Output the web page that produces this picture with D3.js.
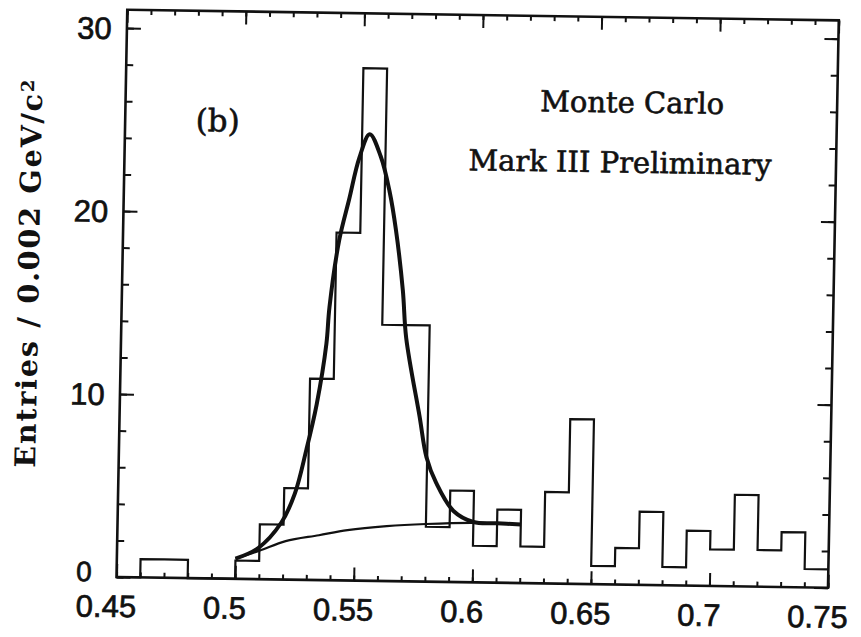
<!DOCTYPE html>
<html>
<head>
<meta charset="utf-8">
<script src="https://cdn.jsdelivr.net/npm/d3@7"></script>
<style>
  body { margin: 0; background: #fff; }
  svg { display: block; }
</style>
</head>
<body>
<div id="chart"></div>
<script>
// histogram: lower edge of each 0.01 bin and its entries
const binStart = [0.45, 0.46, 0.47, 0.48, 0.49, 0.50, 0.51, 0.52, 0.53, 0.54,
                  0.55, 0.56, 0.57, 0.58, 0.59, 0.60, 0.61, 0.62, 0.63, 0.64,
                  0.65, 0.66, 0.67, 0.68, 0.69, 0.70, 0.71, 0.72, 0.73, 0.74];
const counts   = [0, 1, 1, 0, 0, 1, 3, 5, 11, 19,
                  28, 14, 14, 3, 5, 2, 4, 2, 5, 9,
                  1, 2, 4, 1, 3, 2, 5, 2, 3, 1];
const binWidth = 0.01;

// fit curve (signal + background)
const fitX = [0.500, 0.5095, 0.519, 0.5245, 0.529, 0.533, 0.5366, 0.5376, 0.5412, 0.545,
              0.549, 0.5532, 0.558, 0.562, 0.565, 0.5684, 0.5702, 0.5765, 0.5797, 0.584,
              0.5914, 0.600, 0.610, 0.620];
const fitY = [1.1, 1.7, 3.1, 4.7, 7.1, 9.6, 12.9, 14.9, 18.6, 20.8,
              23.1, 24.4, 23.2, 21.3, 19.2, 15.9, 13.3, 9.0, 6.8, 5.4,
              3.9, 3.3, 3.25, 3.2];

// background part of the fit
const bgX = [0.500, 0.510, 0.521, 0.535, 0.547, 0.5635, 0.580, 0.600, 0.620];
const bgY = [1.1, 1.55, 2.1, 2.45, 2.75, 3.0, 3.15, 3.25, 3.2];

const xTicks = [0.45, 0.5, 0.55, 0.6, 0.65, 0.7, 0.75];
const xTickLabels = ["0.45", "0.5", "0.55", "0.6", "0.65", "0.7", "0.75"];
const xMinor = d3.range(45, 76).map(d => d / 100);
const yTicks = [0, 10, 20, 30];
const yTickLabels = ["0", "10", "20", "30"];
const yMinor = d3.range(0, 32, 2);

const width = 861, height = 637;
const x = d3.scaleLinear().domain([0.45, 0.75]).range([116.5, 828]);
const y = d3.scaleLinear().domain([0, 31]).range([577, 9.7]);

const svg = d3.select("#chart").append("svg")
  .attr("width", width)
  .attr("height", height);

// the scanned figure sits slightly askew
const g = svg.append("g")
  .attr("transform", "matrix(1,0.015,-0.019,1,10.963,-1.725)");

const ink = "#111";

// frame
g.append("rect")
  .attr("x", x(0.45)).attr("y", y(31))
  .attr("width", x(0.75) - x(0.45))
  .attr("height", y(0) - y(31))
  .attr("fill", "none")
  .attr("stroke", ink)
  .attr("stroke-width", 2.6);

// tick marks, pointing inward on all four sides
function ticks(axis, values, size, transform) {
  const a = g.append("g")
    .attr("transform", transform)
    .call(axis.tickValues(values).tickSize(size).tickSizeOuter(0).tickFormat(""));
  a.select(".domain").remove();
  a.selectAll("line").attr("stroke", ink).attr("stroke-width", 2);
}
ticks(d3.axisBottom(x), xMinor, -5, `translate(0,${y(0)})`);
ticks(d3.axisBottom(x), xTicks, -13, `translate(0,${y(0)})`);
ticks(d3.axisTop(x), xMinor, -5, `translate(0,${y(31)})`);
ticks(d3.axisTop(x), xTicks, -13, `translate(0,${y(31)})`);
ticks(d3.axisLeft(y), yMinor, -7, `translate(${x(0.45)},0)`);
ticks(d3.axisLeft(y), yTicks, -14, `translate(${x(0.45)},0)`);
ticks(d3.axisRight(y), yMinor, -7, `translate(${x(0.75)},0)`);
ticks(d3.axisRight(y), yTicks, -14, `translate(${x(0.75)},0)`);

// tick labels
const sans = "Liberation Sans, Arial, sans-serif";
g.selectAll(".xlab")
  .data(xTicks)
  .join("text")
  .attr("class", "xlab")
  .attr("x", d => x(d) - 10)
  .attr("y", 617)
  .attr("text-anchor", "middle")
  .attr("font-family", sans)
  .attr("font-size", 31)
  .attr("fill", ink)
  .attr("stroke", ink)
  .attr("stroke-width", 0.7)
  .text((d, i) => xTickLabels[i]);

// the "0" sits a little higher so it clears the 0.45 below it
g.selectAll(".ylab")
  .data(yTicks)
  .join("text")
  .attr("class", "ylab")
  .attr("x", 84)
  .attr("y", d => y(d))
  .attr("dy", d => d === 0 ? "0.16em" : "0.36em")
  .attr("text-anchor", "middle")
  .attr("font-family", sans)
  .attr("font-size", d => d === 0 ? 28 : 31)
  .attr("fill", ink)
  .attr("stroke", ink)
  .attr("stroke-width", 0.7)
  .text((d, i) => yTickLabels[i]);

// histogram outline
const steps = binStart.map((b, i) => [b, counts[i]]);
steps.push([binStart[binStart.length - 1] + binWidth, counts[counts.length - 1]]);
g.append("path")
  .datum(steps)
  .attr("d", d3.line().x(d => x(d[0])).y(d => y(d[1])).curve(d3.curveStepAfter))
  .attr("fill", "none")
  .attr("stroke", ink)
  .attr("stroke-width", 2.2);

// background curve (thin) and full fit (thick)
const curve = d3.line().x(d => x(d[0])).y(d => y(d[1])).curve(d3.curveCatmullRom.alpha(0.5));
g.append("path")
  .datum(bgX.map((v, i) => [v, bgY[i]]))
  .attr("d", curve)
  .attr("fill", "none")
  .attr("stroke", ink)
  .attr("stroke-width", 2.2);
g.append("path")
  .datum(fitX.map((v, i) => [v, fitY[i]]))
  .attr("d", curve)
  .attr("fill", "none")
  .attr("stroke", ink)
  .attr("stroke-width", 4)
  .attr("stroke-linejoin", "round");

// annotations
const serif = "DejaVu Serif, serif";
function note(tx, ty, size, label) {
  g.append("text")
    .attr("x", tx).attr("y", ty)
    .attr("text-anchor", "middle")
    .attr("font-family", serif).attr("font-size", size)
    .attr("fill", ink)
    .attr("stroke", ink)
    .attr("stroke-width", 0.6)
    .text(label);
}
note(209, 130, 31, "(b)");
note(623, 105, 29, "Monte Carlo");
note(612, 165, 29, "Mark III Preliminary");

// y axis title
const ytitle = g.append("text")
  .attr("transform", "translate(33,275) rotate(-90)")
  .attr("text-anchor", "middle")
  .attr("font-family", serif).attr("font-size", 28.5)
  .attr("font-weight", "bold")
  .attr("textLength", 388)
  .attr("lengthAdjust", "spacing")
  .attr("fill", ink);
ytitle.append("tspan").text("Entries / 0.002 GeV/c");
ytitle.append("tspan").attr("dy", "-0.45em").attr("font-size", 18).text("2");
</script>
</body>
</html>
